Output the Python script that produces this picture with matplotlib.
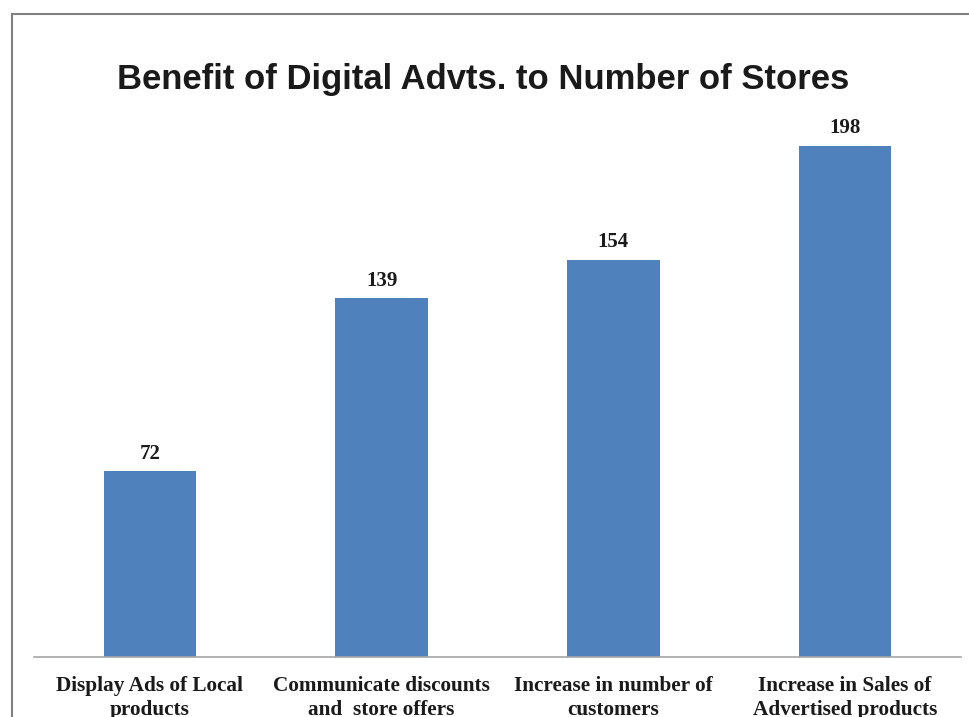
import matplotlib.pyplot as plt
from matplotlib.lines import Line2D

# --- Data ---
categories = [
    "Display Ads of Local\nproducts",
    "Communicate discounts\nand  store offers",
    "Increase in number of\ncustomers",
    "Increase in Sales of\nAdvertised products",
]
store_counts = [72, 139, 154, 198]

W, H = 970, 717
fig = plt.figure(figsize=(W / 100, H / 100), dpi=100)
fig.patch.set_facecolor("white")

# Axes placed in pixel terms: baseline at y=657, categories span x=34..961
left, right = 34, 961
bottom = H - 657
y_max = 210
px_per_unit = 2.581
ax_h = y_max * px_per_unit
ax = fig.add_axes([left / W, bottom / H, (right - left) / W, ax_h / H])

x = range(len(categories))
bars = ax.bar(x, store_counts, width=0.4, color="#4F81BD", zorder=2)

ax.set_xlim(-0.5, len(categories) - 0.5)
ax.set_ylim(0, y_max)
ax.set_yticks([])
ax.set_xticks(list(x))
ax.set_xticklabels(categories, fontfamily="Liberation Serif", fontweight="bold",
                   fontsize=15.3, color="#1a1a1a", linespacing=1.22)
ax.tick_params(axis="x", length=0, pad=14)
for side in ("top", "right", "left"):
    ax.spines[side].set_visible(False)
ax.spines["bottom"].set_color("#a6a6a6")
ax.spines["bottom"].set_linewidth(1.2)

# Value labels above each bar
for rect, val in zip(bars, store_counts):
    ax.annotate(str(val), (rect.get_x() + rect.get_width() / 2, val),
                xytext=(0, 5.5), textcoords="offset points",
                ha="center", va="bottom", fontfamily="Liberation Serif",
                fontweight="bold", fontsize=15, color="#1a1a1a")

fig.text(483 / W, 1 - 79 / H, "Benefit of Digital Advts. to Number of Stores",
         ha="center", va="center", fontfamily="Liberation Sans",
         fontweight="bold", fontsize=24.9, color="#1a1a1a")

# Outer frame (left and top edges)
fig.add_artist(Line2D([12 / W, 12 / W], [0, 1 - 14 / H], transform=fig.transFigure,
                      color="#808080", lw=1.5))
fig.add_artist(Line2D([12 / W, 1], [1 - 14 / H, 1 - 14 / H], transform=fig.transFigure,
                      color="#808080", lw=1.5))

fig.savefig("out.png", dpi=100)
